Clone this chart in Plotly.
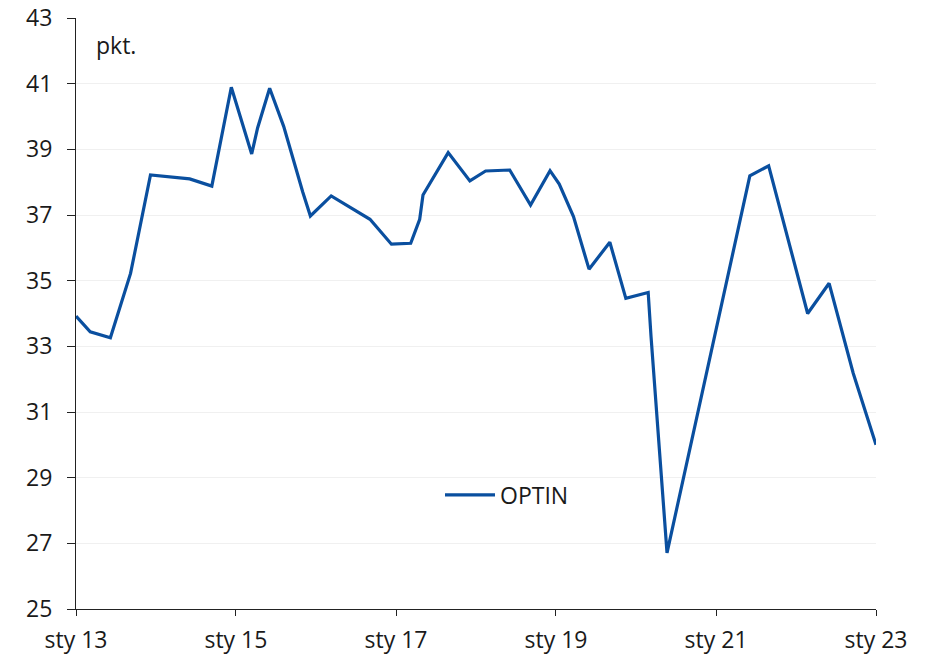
import plotly.graph_objects as go

dates = [
    "2013-01-01", "2013-03-07", "2013-06-07", "2013-09-07", "2013-12-07",
    "2014-06-04", "2014-09-13", "2014-11-14", "2014-12-11", "2015-03-14",
    "2015-04-10", "2015-06-04", "2015-08-07", "2015-11-02", "2015-12-07",
    "2016-03-11", "2016-09-04", "2016-12-11", "2017-03-09", "2017-04-19",
    "2017-05-04", "2017-08-27", "2017-12-04", "2018-02-14", "2018-06-04",
    "2018-09-07", "2018-12-05", "2019-01-16", "2019-03-22", "2019-06-01",
    "2019-09-04", "2019-11-16", "2020-02-26", "2020-03-10", "2020-05-22",
    "2021-06-04", "2021-08-29", "2022-02-23", "2022-06-01", "2022-09-19",
    "2023-01-01",
]
optin = [
    33.92, 33.44, 33.26, 35.22, 38.22,
    38.10, 37.88, 39.90, 40.89, 38.86,
    39.65, 40.86, 39.70, 37.70, 36.97,
    37.58, 36.87, 36.11, 36.14, 36.87,
    37.61, 38.90, 38.04, 38.34, 38.37,
    37.30, 38.35, 37.94, 36.95, 35.35,
    36.17, 34.46, 34.64, 33.30, 26.71,
    38.19, 38.50, 34.00, 34.92, 32.18,
    30.00,
]

tick_dates = ["2013-01-01", "2015-01-01", "2017-01-01", "2019-01-01", "2021-01-01", "2023-01-01"]
tick_labels = ["sty 13", "sty 15", "sty 17", "sty 19", "sty 21", "sty 23"]
y_ticks = [25, 27, 29, 31, 33, 35, 37, 39, 41, 43]

FONT = "Open Sans"
TXT = "#1a1a1a"

fig = go.Figure()
fig.add_trace(go.Scatter(
    x=dates, y=optin, mode="lines", name="OPTIN",
    line=dict(color="#0a4f9f", width=3.2),
))

fig.update_layout(
    width=936, height=658,
    margin=dict(l=68, r=68, t=10, b=57),
    paper_bgcolor="white", plot_bgcolor="white",
    font=dict(family=FONT, size=23, color=TXT),
    showlegend=True,
    legend=dict(
        x=0.455, y=0.193, xanchor="left", yanchor="middle",
        bgcolor="rgba(0,0,0,0)", font=dict(size=23, color=TXT),
        itemwidth=50,
    ),
    annotations=[dict(
        text="pkt.", xref="paper", yref="paper", x=0.022, y=0.955,
        xanchor="left", yanchor="middle", showarrow=False,
        font=dict(size=23, color=TXT, family=FONT),
    )],
)

fig.update_xaxes(
    type="date", range=["2013-01-01", "2023-01-01"],
    tickvals=tick_dates, ticktext=tick_labels,
    showline=True, linecolor="#222222", linewidth=1,
    ticks="outside", ticklen=6, tickcolor="#222222",
    showgrid=False, zeroline=False, automargin=False,
    ticklabelstandoff=4, ticklabeloverflow="allow",
    tickfont=dict(size=23, color=TXT, family=FONT),
)
fig.update_yaxes(
    range=[25, 43], tickvals=y_ticks,
    showline=True, linecolor="#222222", linewidth=1,
    ticks="outside", ticklen=8, tickcolor="#222222",
    showgrid=True, gridcolor="#f0f0f0", gridwidth=1,
    zeroline=False, ticklabelstandoff=10, automargin=False,
    ticklabeloverflow="allow",
    tickfont=dict(size=23, color=TXT, family=FONT),
)

fig.write_html("out.html")
